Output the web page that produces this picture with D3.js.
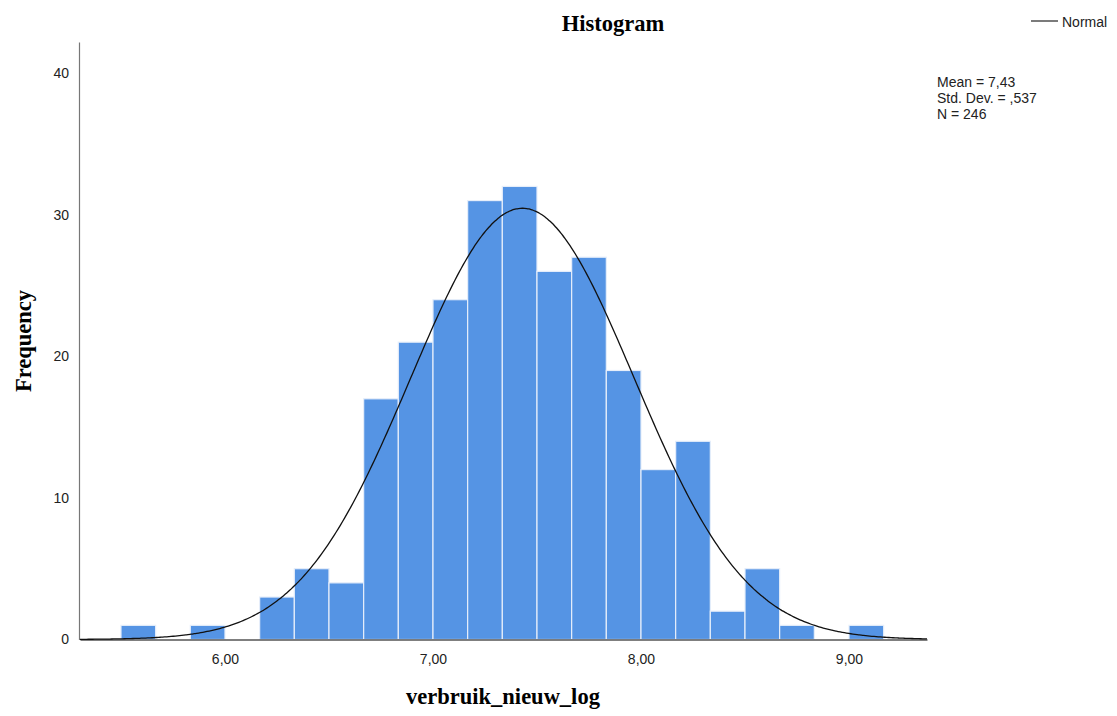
<!DOCTYPE html>
<html><head><meta charset="utf-8">
<script src="https://cdn.jsdelivr.net/npm/d3@7"></script>
<style>body{margin:0;background:#fff}svg{display:block}</style>
</head><body>
<script>
// Data
const binStart = 5.5;
const binWidth = 1/6;
const counts = [1,0,1,0,3,5,4,17,21,24,31,32,26,27,19,12,14,2,5,1,0,1];
const xTicks = [6,7,8,9];
const yTicks = [0,10,20,30,40];
const stats = {mean: 7.43, sd: 0.537, n: 246};
const statLines = ["Mean = 7,43", "Std. Dev. = ,537", "N = 246"];

const W = 1117, H = 716;
const svg = d3.select("body").append("svg").attr("width", W).attr("height", H);

const x = d3.scaleLinear().domain([5.303, 9.375]).range([80, 927]);
const y = d3.scaleLinear().domain([0, 42.2]).range([639.5, 42]);

const bins = counts.map((c,i)=>({x0: binStart + i*binWidth, x1: binStart + (i+1)*binWidth, c}));

svg.append("g").selectAll("rect").data(bins.filter(d=>d.c>0)).join("rect")
  .attr("x", d=>x(d.x0)).attr("width", d=>x(d.x1)-x(d.x0))
  .attr("y", d=>y(d.c)).attr("height", d=>y(0)-y(d.c))
  .attr("fill", "#5594e4").attr("stroke", "#e6eefa").attr("stroke-width", 1.2);

// Axes
const fmt = d=>d3.format(".2f")(d).replace(".", ",");
const xAxis = svg.append("g").attr("transform", `translate(0,${y(0)})`)
  .call(d3.axisBottom(x).tickValues(xTicks).tickSize(0).tickPadding(15).tickFormat(fmt));
xAxis.select(".domain").attr("stroke", "#555").attr("stroke-width", 1.5);
const yAxis = svg.append("g").attr("transform", `translate(${x.range()[0]-1},0)`)
  .call(d3.axisLeft(y).tickValues(yTicks).tickSize(0).tickPadding(10));
yAxis.select(".domain").attr("stroke", "#777").attr("stroke-width", 1.2);
svg.selectAll(".tick text").attr("font-family", "Liberation Sans, Arial, sans-serif").attr("font-size", 14).attr("fill", "#222");

// Normal curve
const scale = stats.n * binWidth;
const pdf = v => scale * Math.exp(-0.5*((v-stats.mean)/stats.sd)**2) / (stats.sd*Math.sqrt(2*Math.PI));
const pts = d3.range(0, 401).map(i => { const v = x.domain()[0] + i*(x.domain()[1]-x.domain()[0])/400; return [v, pdf(v)]; });
svg.append("path").datum(pts)
  .attr("d", d3.line().x(d=>x(d[0])).y(d=>y(d[1])).curve(d3.curveBasis))
  .attr("fill", "none").attr("stroke", "#111").attr("stroke-width", 1.3);

// Title and labels
const serif = "Liberation Serif, serif";
svg.append("text").attr("x", 613).attr("y", 31).attr("text-anchor", "middle")
  .attr("font-family", serif).attr("font-weight", "bold").attr("font-size", 22.5).text("Histogram");
svg.append("text").attr("x", 503).attr("y", 704).attr("text-anchor", "middle")
  .attr("font-family", serif).attr("font-weight", "bold").attr("font-size", 22.5).text("verbruik_nieuw_log");
svg.append("text").attr("transform", "translate(31,341) rotate(-90)").attr("text-anchor", "middle")
  .attr("font-family", serif).attr("font-weight", "bold").attr("font-size", 22.5).text("Frequency");

// Legend
svg.append("line").attr("x1", 1031).attr("x2", 1058).attr("y1", 21).attr("y2", 21).attr("stroke", "#333").attr("stroke-width", 1.3);
svg.append("text").attr("x", 1062).attr("y", 27).attr("font-family", "Liberation Sans, Arial, sans-serif").attr("font-size", 14).attr("fill", "#222").text("Normal");

// Stats
svg.append("g").selectAll("text").data(statLines).join("text")
  .attr("x", 937).attr("y", (d,i)=>87 + i*16)
  .attr("font-family", "Liberation Sans, Arial, sans-serif").attr("font-size", 14).attr("fill", "#222")
  .text(d=>d);
</script>
</body></html>
